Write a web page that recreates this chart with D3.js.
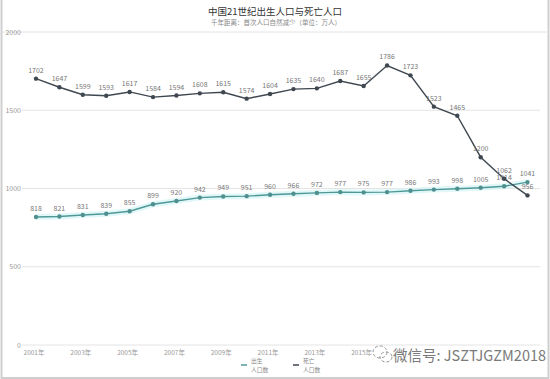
<!DOCTYPE html>
<html><head><meta charset="utf-8">
<script src="https://cdn.jsdelivr.net/npm/d3@7"></script>
<style>body{margin:0;background:#fff;}svg{display:block;font-family:"Noto Sans CJK SC","Noto Sans",sans-serif;}</style>
</head><body>
<script>
const years = d3.range(2001, 2023);
const births = [1702,1647,1599,1593,1617,1584,1594,1608,1615,1574,1604,1635,1640,1687,1655,1786,1723,1523,1465,1200,1062,956];
const deaths = [818,821,831,839,855,899,920,942,949,951,960,966,972,977,975,977,986,993,998,1005,1014,1041];
const yTicks = [0,500,1000,1500,2000];
const xTickYears = [2001,2003,2005,2007,2009,2011,2013,2015];
const title = "中国21世纪出生人口与死亡人口";
const subtitle = "千年距离：首次人口自然减少（单位：万人）";

const W = 550, H = 379;
const svg = d3.select("body").append("svg").attr("width", W).attr("height", H);

svg.append("rect").attr("x",1.5).attr("y",-2).attr("width",W-3).attr("height",H+1)
  .attr("fill","#fff").attr("stroke","#cfcfcf").attr("stroke-width",2);

const x = d3.scalePoint().domain(years).range([36, 527.5]);
const y = d3.scaleLinear().domain([0,2000]).range([345, 32]);

// grid
const grid = svg.append("g");
grid.selectAll("line").data(yTicks).join("line")
  .attr("x1", d => d===2000 ? 3 : 22).attr("x2", d => d===2000 ? W-3 : 540)
  .attr("y1", d => y(d)).attr("y2", d => y(d))
  .attr("stroke", "#e4e4e4").attr("stroke-width", 1);
grid.selectAll("text").data(yTicks).join("text")
  .attr("x", 21).attr("y", d => y(d)+2.5).attr("text-anchor","end")
  .attr("font-size", 7).attr("fill", "#999").text(d => d);

// x labels
svg.append("g").selectAll("text").data(xTickYears).join("text")
  .attr("x", d => x(d)-2).attr("y", 355).attr("text-anchor","middle")
  .attr("font-size", 6.5).attr("fill","#999").text(d => d + "年");

// title
svg.append("text").attr("x", 275).attr("y", 15).attr("text-anchor","middle")
  .attr("font-size", 9.5).attr("fill","#333").text(title);
svg.append("text").attr("x", 276).attr("y", 25).attr("text-anchor","middle")
  .attr("font-size", 6.5).attr("fill","#888").text(subtitle);

const line = d3.line().x((d,i) => x(years[i])).y(d => y(d));

// deaths glow
svg.append("path").datum(deaths).attr("d", line).attr("fill","none")
  .attr("stroke","#d6f5f5").attr("stroke-width",6).attr("stroke-linejoin","round").attr("opacity",0.7);
svg.append("path").datum(deaths).attr("d", line).attr("fill","none")
  .attr("stroke","#4f9898").attr("stroke-width",1.4);
svg.append("path").datum(births).attr("d", line).attr("fill","none")
  .attr("stroke","#3f4750").attr("stroke-width",1.4);

function marks(data, color) {
  svg.append("g").selectAll("circle").data(data).join("circle")
    .attr("cx", (d,i) => x(years[i])).attr("cy", d => y(d)).attr("r", 2.2).attr("fill", color);
  svg.append("g").selectAll("text").data(data).join("text")
    .attr("x", (d,i) => x(years[i])).attr("y", d => y(d) - 6)
    .attr("text-anchor","middle").attr("font-size", 7).attr("fill","#777").text(d => d);
}
marks(deaths, "#4f8f8f");
marks(births, "#3f4750");

// legend
const leg = [{n1:"出生",n2:"人口数",c:"#4f9898",x:241},{n1:"死亡",n2:"人口数",c:"#3f4750",x:293}];
const lg = svg.append("g").selectAll("g").data(leg).join("g");
lg.append("line").attr("x1", d=>d.x).attr("x2", d=>d.x+6).attr("y1",365).attr("y2",365)
  .attr("stroke", d=>d.c).attr("stroke-width",1.5);
lg.append("text").attr("x", d=>d.x+10).attr("y",363).attr("font-size",5.8).attr("fill","#888").text(d=>d.n1);
lg.append("text").attr("x", d=>d.x+10).attr("y",371.5).attr("font-size",5.8).attr("fill","#888").text(d=>d.n2);

// watermark
const wm = svg.append("g").attr("fill","none").attr("stroke","#888").attr("stroke-width",0.9);
wm.append("ellipse").attr("cx",380).attr("cy",352).attr("rx",7).attr("ry",6).attr("stroke-dasharray","3 2");
wm.append("ellipse").attr("cx",386).attr("cy",357).attr("rx",6).attr("ry",5).attr("stroke-dasharray","3 2");
svg.append("text").attr("x", 393).attr("y", 361).attr("font-size", 14.5).attr("fill","#7a7a7a")
  .text("微信号: JSZTJGZM2018");
</script>
</body></html>
